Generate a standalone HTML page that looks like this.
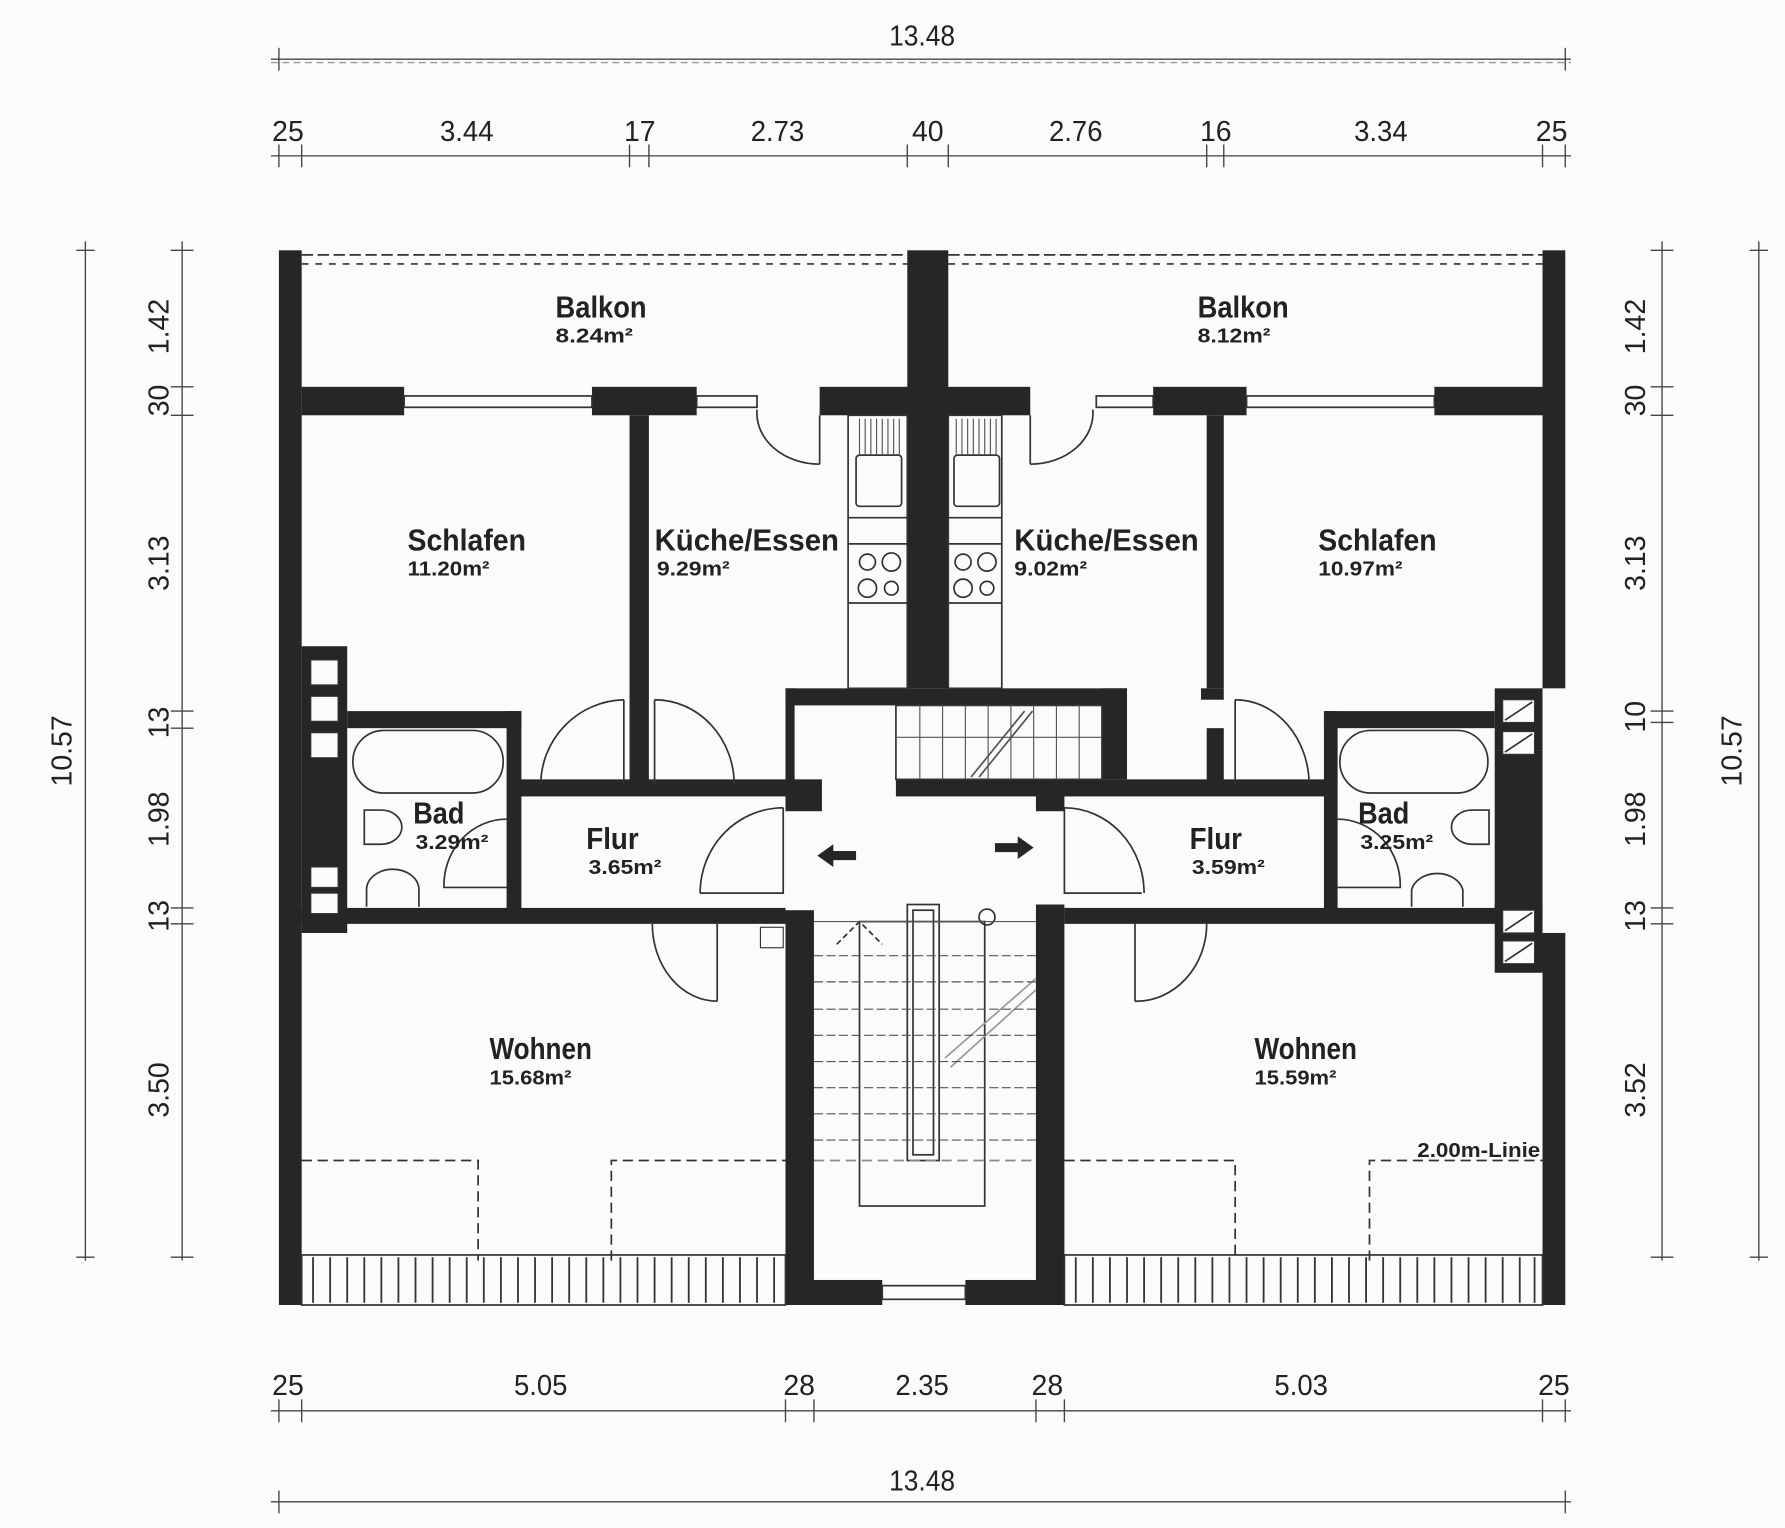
<!DOCTYPE html>
<html><head><meta charset="utf-8"><style>
html,body{margin:0;padding:0;background:#fbfbfb}
svg{display:block}
text{font-family:"Liberation Sans",sans-serif;fill:#222}
.l{font-size:27px;font-weight:bold}
.a{font-size:18px;font-weight:bold}
.d{font-size:25px}
</style></head><body>
<svg width="1785" height="1528" viewBox="0 0 1568 1343" preserveAspectRatio="none" xmlns="http://www.w3.org/2000/svg">
<rect width="1568" height="1343" fill="#fbfbfb"/>
<g fill="#262626">
<rect x="245" y="220" width="20" height="927"/>
<rect x="1355" y="220" width="20" height="385"/>
<rect x="1355" y="820" width="20" height="327"/>
<rect x="1313" y="660" width="42" height="140"/>
<rect x="797" y="220" width="36" height="385"/>
<rect x="265" y="340" width="90" height="25"/>
<rect x="520" y="340" width="92" height="25"/>
<rect x="720" y="340" width="185" height="25"/>
<rect x="1013" y="340" width="82" height="25"/>
<rect x="1260" y="340" width="95" height="25"/>
<rect x="553" y="365" width="17" height="325"/>
<rect x="1060" y="365" width="15" height="240"/>
<rect x="1055" y="605" width="20" height="10"/>
<rect x="1060" y="640" width="15" height="50"/>
<rect x="690" y="605" width="300" height="15"/>
<rect x="968" y="605" width="22" height="80"/>
<rect x="690" y="605" width="8" height="85"/>
<rect x="690" y="685" width="32" height="28"/>
<rect x="690" y="800" width="25" height="347"/>
<rect x="787" y="685" width="148" height="15"/>
<rect x="910" y="685" width="25" height="28"/>
<rect x="910" y="795" width="25" height="352"/>
<rect x="690" y="1125" width="85" height="22"/>
<rect x="848" y="1125" width="87" height="22"/>
<rect x="455" y="685" width="235" height="15"/>
<rect x="305" y="625" width="153" height="15"/>
<rect x="445" y="625" width="13" height="175"/>
<rect x="265" y="798" width="425" height="14"/>
<rect x="265" y="568" width="40" height="252"/>
<rect x="935" y="685" width="230" height="15"/>
<rect x="1163" y="625" width="12" height="175"/>
<rect x="1163" y="625" width="150" height="15"/>
<rect x="935" y="798" width="420" height="14"/>
<rect x="1313" y="605" width="42" height="55"/>
<rect x="1313" y="795" width="42" height="60"/>
</g>
<g fill="#fbfbfb" stroke="#333" stroke-width="1">
<rect x="273" y="580" width="24" height="22"/><rect x="273" y="612" width="24" height="22"/><rect x="273" y="644" width="24" height="22"/>
<rect x="273" y="762" width="24" height="18"/><rect x="273" y="785" width="24" height="18"/>
<rect x="1320" y="615" width="28" height="20"/><rect x="1320" y="643" width="28" height="20"/>
<rect x="1320" y="800" width="28" height="20"/><rect x="1320" y="827" width="28" height="20"/>
<rect x="668" y="815" width="20" height="18"/>
</g>
<g stroke="#333" stroke-width="1.5">
<line x1="1322" y1="633" x2="1346" y2="617"/><line x1="1322" y1="661" x2="1346" y2="645"/>
<line x1="1322" y1="818" x2="1346" y2="802"/><line x1="1322" y1="845" x2="1346" y2="829"/>
</g>
<g fill="none" stroke="#333" stroke-width="1.5">
<line x1="265" y1="224" x2="797" y2="224" stroke-dasharray="10 4"/><line x1="265" y1="232" x2="797" y2="232" stroke-dasharray="6 6"/>
<line x1="833" y1="224" x2="1355" y2="224" stroke-dasharray="10 4"/><line x1="833" y1="232" x2="1355" y2="232" stroke-dasharray="6 6"/>
<rect x="355" y="348" width="165" height="10"/><rect x="612" y="348" width="53" height="10"/>
<rect x="963" y="348" width="50" height="10"/><rect x="1095" y="348" width="165" height="10"/>
<rect x="775" y="1130" width="73" height="12"/>
<path d="M720 365 V408 M720 408 A55 45 0 0 1 665 360"/>
<path d="M905 365 V408 M905 408 A55 45 0 0 0 960 360"/>
<path d="M548 615 V690 M548 615 A75 75 0 0 0 475 690"/>
<path d="M575 615 V690 M575 615 A70 75 0 0 1 645 690"/>
<path d="M1085 615 V690 M1085 615 A65 75 0 0 1 1150 690"/>
<path d="M688 710 V785 H615 M688 710 A73 75 0 0 0 615 785"/>
<path d="M935 710 V785 H1003 M935 710 A70 75 0 0 1 1005 785"/>
<path d="M445 720 A55 58 0 0 0 390 780 H445"/>
<path d="M1175 720 A55 58 0 0 1 1230 780 H1175"/>
<path d="M630 812 V880 M630 880 A57 68 0 0 1 573 812"/>
<path d="M997 812 V880 M997 880 A62 68 0 0 0 1060 812"/>
<rect x="745" y="365" width="52" height="240"/><rect x="833" y="365" width="47" height="240"/>
<rect x="752" y="400" width="40" height="45" rx="3"/><rect x="838" y="400" width="40" height="45" rx="3"/>
<line x1="745" y1="455" x2="797" y2="455"/><line x1="745" y1="478" x2="797" y2="478"/><line x1="745" y1="530" x2="797" y2="530"/>
<line x1="833" y1="455" x2="880" y2="455"/><line x1="833" y1="478" x2="880" y2="478"/><line x1="833" y1="530" x2="880" y2="530"/>
<circle cx="762" cy="494" r="7"/><circle cx="783" cy="494" r="8"/><circle cx="762" cy="517" r="8"/><circle cx="783" cy="517" r="6"/>
<circle cx="846" cy="494" r="7"/><circle cx="867" cy="494" r="8"/><circle cx="846" cy="517" r="8"/><circle cx="867" cy="517" r="6"/>
<rect x="310" y="642" width="132" height="55" rx="27"/>
<rect x="1177" y="642" width="130" height="55" rx="27"/>
<path d="M320 712 H335 A18 15 0 0 1 335 742 H320 Z"/><path d="M1308 712 H1293 A18 15 0 0 0 1293 742 H1308 Z"/>
<path d="M322 797 V782 A23 18 0 0 1 368 782 V797"/><path d="M1240 797 V782 A23 18 0 0 1 1285 782 V797"/>
<rect x="797" y="795" width="28" height="225"/><rect x="802" y="800" width="18" height="215"/>
<rect x="755" y="810" width="110" height="250"/>
<circle cx="867" cy="806" r="7"/>
<path d="M735 830 L755 810 L775 830" stroke-dasharray="5 3"/>
<path d="M830 930 L910 860 M835 938 L910 870" stroke="#999"/>
<rect x="787" y="620" width="181" height="65"/>
<path d="M853 683 L900 625 M860 683 L907 625" stroke="#555"/>
<path d="M265 1020 H420 V1108 M537 1108 V1020 H690" stroke-dasharray="9 5"/>
<path d="M935 1020 H1085 V1108 M1203 1108 V1020 H1355" stroke-dasharray="9 5"/>
<path d="M715 1020 H910" stroke-dasharray="9 5" stroke="#888"/>
<rect x="265" y="1103" width="425" height="44"/><rect x="935" y="1103" width="420" height="44"/>
</g>
<g stroke="#555" stroke-width="1">
<line x1="715" y1="810" x2="910" y2="810"/>
<line x1="715" y1="840" x2="910" y2="840" stroke-dasharray="8 3"/>
<line x1="715" y1="863" x2="910" y2="863" stroke-dasharray="8 3"/>
<line x1="715" y1="887" x2="910" y2="887" stroke-dasharray="8 3"/>
<line x1="715" y1="910" x2="910" y2="910" stroke-dasharray="8 3"/>
<line x1="715" y1="933" x2="910" y2="933" stroke-dasharray="8 3"/>
<line x1="715" y1="956" x2="910" y2="956" stroke-dasharray="8 3"/>
<line x1="715" y1="979" x2="910" y2="979" stroke-dasharray="8 3"/>
<line x1="715" y1="1002" x2="910" y2="1002" stroke-dasharray="8 3"/>
<line x1="787" y1="648" x2="968" y2="648"/>
<path d="M808 620V685M828 620V685M848 620V685M868 620V685M888 620V685M908 620V685M928 620V685M948 620V685"/>
<path d="M755 368V400M760 368V400M765 368V400M770 368V400M775 368V400M780 368V400M785 368V400M790 368V400"/>
<path d="M840 368V400M845 368V400M850 368V400M855 368V400M860 368V400M865 368V400M870 368V400M875 368V400"/>
</g>
<g stroke="#333" stroke-width="1.6">
<path d="M275 1105V1145M290 1105V1145M305 1105V1145M320 1105V1145M335 1105V1145M350 1105V1145M365 1105V1145M380 1105V1145M395 1105V1145M410 1105V1145M425 1105V1145M440 1105V1145M455 1105V1145M470 1105V1145M485 1105V1145M500 1105V1145M515 1105V1145M530 1105V1145M545 1105V1145M560 1105V1145M575 1105V1145M590 1105V1145M605 1105V1145M620 1105V1145M635 1105V1145M650 1105V1145M665 1105V1145M680 1105V1145"/>
<path d="M945 1105V1145M960 1105V1145M975 1105V1145M990 1105V1145M1005 1105V1145M1020 1105V1145M1035 1105V1145M1050 1105V1145M1065 1105V1145M1080 1105V1145M1095 1105V1145M1110 1105V1145M1125 1105V1145M1140 1105V1145M1155 1105V1145M1170 1105V1145M1185 1105V1145M1200 1105V1145M1215 1105V1145M1230 1105V1145M1245 1105V1145M1260 1105V1145M1275 1105V1145M1290 1105V1145M1305 1105V1145M1320 1105V1145M1335 1105V1145M1348 1105V1145"/>
</g>
<g fill="#262626">
<path d="M718 752 L732 742 V748 H752 V756 H732 V762 Z"/>
<path d="M908 745 L894 735 V741 H874 V749 H894 V755 Z"/>
</g>
<g stroke="#444" stroke-width="1.2" fill="none">
<line x1="238" y1="52" x2="1380" y2="52"/><line x1="238" y1="55" x2="1380" y2="55" stroke-dasharray="6 4" stroke="#999"/>
<line x1="245" y1="42" x2="245" y2="62"/><line x1="1375" y1="42" x2="1375" y2="62"/>
<line x1="238" y1="137" x2="1380" y2="137"/>
<path d="M245 127V147M265 127V147M553 127V147M570 127V147M797 127V147M833 127V147M1060 127V147M1075 127V147M1355 127V147M1375 127V147"/>
<line x1="238" y1="1240" x2="1380" y2="1240"/>
<path d="M245 1230V1250M265 1230V1250M690 1230V1250M715 1230V1250M910 1230V1250M935 1230V1250M1355 1230V1250M1375 1230V1250"/>
<line x1="238" y1="1320" x2="1380" y2="1320"/><path d="M245 1310V1330M1375 1310V1330"/>
<line x1="75" y1="212" x2="75" y2="1108"/><path d="M67 220H83M67 1105H83"/>
<line x1="160" y1="212" x2="160" y2="1108"/><path d="M150 220H170M150 340H170M150 365H170M150 625H170M150 640H170M150 798H170M150 812H170M150 1105H170"/>
<line x1="1460" y1="212" x2="1460" y2="1108"/><path d="M1450 220H1470M1450 340H1470M1450 365H1470M1450 625H1470M1450 635H1470M1450 798H1470M1450 812H1470M1450 1105H1470"/>
<line x1="1545" y1="212" x2="1545" y2="1108"/><path d="M1537 220H1553M1537 1105H1553"/>
</g>
<g class="d" text-anchor="middle" lengthAdjust="spacingAndGlyphs">
<text x="810" y="40" textLength="58" lengthAdjust="spacingAndGlyphs">13.48</text><text x="810" y="1310" textLength="58" lengthAdjust="spacingAndGlyphs">13.48</text>
<text x="253" y="124">25</text><text x="410" y="124" textLength="47" lengthAdjust="spacingAndGlyphs">3.44</text><text x="562" y="124">17</text><text x="683" y="124" textLength="47" lengthAdjust="spacingAndGlyphs">2.73</text><text x="815" y="124">40</text><text x="945" y="124" textLength="47" lengthAdjust="spacingAndGlyphs">2.76</text><text x="1068" y="124">16</text><text x="1213" y="124" textLength="47" lengthAdjust="spacingAndGlyphs">3.34</text><text x="1363" y="124">25</text>
<text x="253" y="1226">25</text><text x="475" y="1226" textLength="47" lengthAdjust="spacingAndGlyphs">5.05</text><text x="702" y="1226">28</text><text x="810" y="1226" textLength="47" lengthAdjust="spacingAndGlyphs">2.35</text><text x="920" y="1226">28</text><text x="1143" y="1226" textLength="47" lengthAdjust="spacingAndGlyphs">5.03</text><text x="1365" y="1226">25</text>
<text transform="translate(63,660) rotate(-90)">10.57</text>
<text transform="translate(148,287) rotate(-90)">1.42</text>
<text transform="translate(148,352) rotate(-90)">30</text>
<text transform="translate(148,495) rotate(-90)">3.13</text>
<text transform="translate(148,635) rotate(-90)">13</text>
<text transform="translate(148,720) rotate(-90)">1.98</text>
<text transform="translate(148,805) rotate(-90)">13</text>
<text transform="translate(148,958) rotate(-90)">3.50</text>
<text transform="translate(1445,287) rotate(-90)">1.42</text>
<text transform="translate(1445,352) rotate(-90)">30</text>
<text transform="translate(1445,495) rotate(-90)">3.13</text>
<text transform="translate(1445,630) rotate(-90)">10</text>
<text transform="translate(1445,720) rotate(-90)">1.98</text>
<text transform="translate(1445,805) rotate(-90)">13</text>
<text transform="translate(1445,958) rotate(-90)">3.52</text>
<text transform="translate(1530,660) rotate(-90)">10.57</text>
</g>
<g>
<text class="l" x="488" y="279" textLength="80" lengthAdjust="spacingAndGlyphs">Balkon</text><text class="a" x="488" y="301" textLength="68" lengthAdjust="spacingAndGlyphs">8.24m²</text>
<text class="l" x="1052" y="279" textLength="80" lengthAdjust="spacingAndGlyphs">Balkon</text><text class="a" x="1052" y="301" textLength="64" lengthAdjust="spacingAndGlyphs">8.12m²</text>
<text class="l" x="358" y="484" textLength="104" lengthAdjust="spacingAndGlyphs">Schlafen</text><text class="a" x="358" y="506" textLength="72" lengthAdjust="spacingAndGlyphs">11.20m²</text>
<text class="l" x="575" y="484" textLength="162" lengthAdjust="spacingAndGlyphs">Küche/Essen</text><text class="a" x="577" y="506" textLength="64" lengthAdjust="spacingAndGlyphs">9.29m²</text>
<text class="l" x="891" y="484" textLength="162" lengthAdjust="spacingAndGlyphs">Küche/Essen</text><text class="a" x="891" y="506" textLength="64" lengthAdjust="spacingAndGlyphs">9.02m²</text>
<text class="l" x="1158" y="484" textLength="104" lengthAdjust="spacingAndGlyphs">Schlafen</text><text class="a" x="1158" y="506" textLength="74" lengthAdjust="spacingAndGlyphs">10.97m²</text>
<text class="l" x="363" y="724" textLength="45" lengthAdjust="spacingAndGlyphs">Bad</text><text class="a" x="365" y="746" textLength="64" lengthAdjust="spacingAndGlyphs">3.29m²</text>
<text class="l" x="1193" y="724" textLength="45" lengthAdjust="spacingAndGlyphs">Bad</text><text class="a" x="1195" y="746" textLength="64" lengthAdjust="spacingAndGlyphs">3.25m²</text>
<text class="l" x="515" y="746" textLength="46" lengthAdjust="spacingAndGlyphs">Flur</text><text class="a" x="517" y="768" textLength="64" lengthAdjust="spacingAndGlyphs">3.65m²</text>
<text class="l" x="1045" y="746" textLength="46" lengthAdjust="spacingAndGlyphs">Flur</text><text class="a" x="1047" y="768" textLength="64" lengthAdjust="spacingAndGlyphs">3.59m²</text>
<text class="l" x="430" y="931" textLength="90" lengthAdjust="spacingAndGlyphs">Wohnen</text><text class="a" x="430" y="953" textLength="72" lengthAdjust="spacingAndGlyphs">15.68m²</text>
<text class="l" x="1102" y="931" textLength="90" lengthAdjust="spacingAndGlyphs">Wohnen</text><text class="a" x="1102" y="953" textLength="72" lengthAdjust="spacingAndGlyphs">15.59m²</text>
<text class="a" x="1245" y="1017" textLength="108" lengthAdjust="spacingAndGlyphs">2.00m-Linie</text>
</g>
</svg>
</body></html>
